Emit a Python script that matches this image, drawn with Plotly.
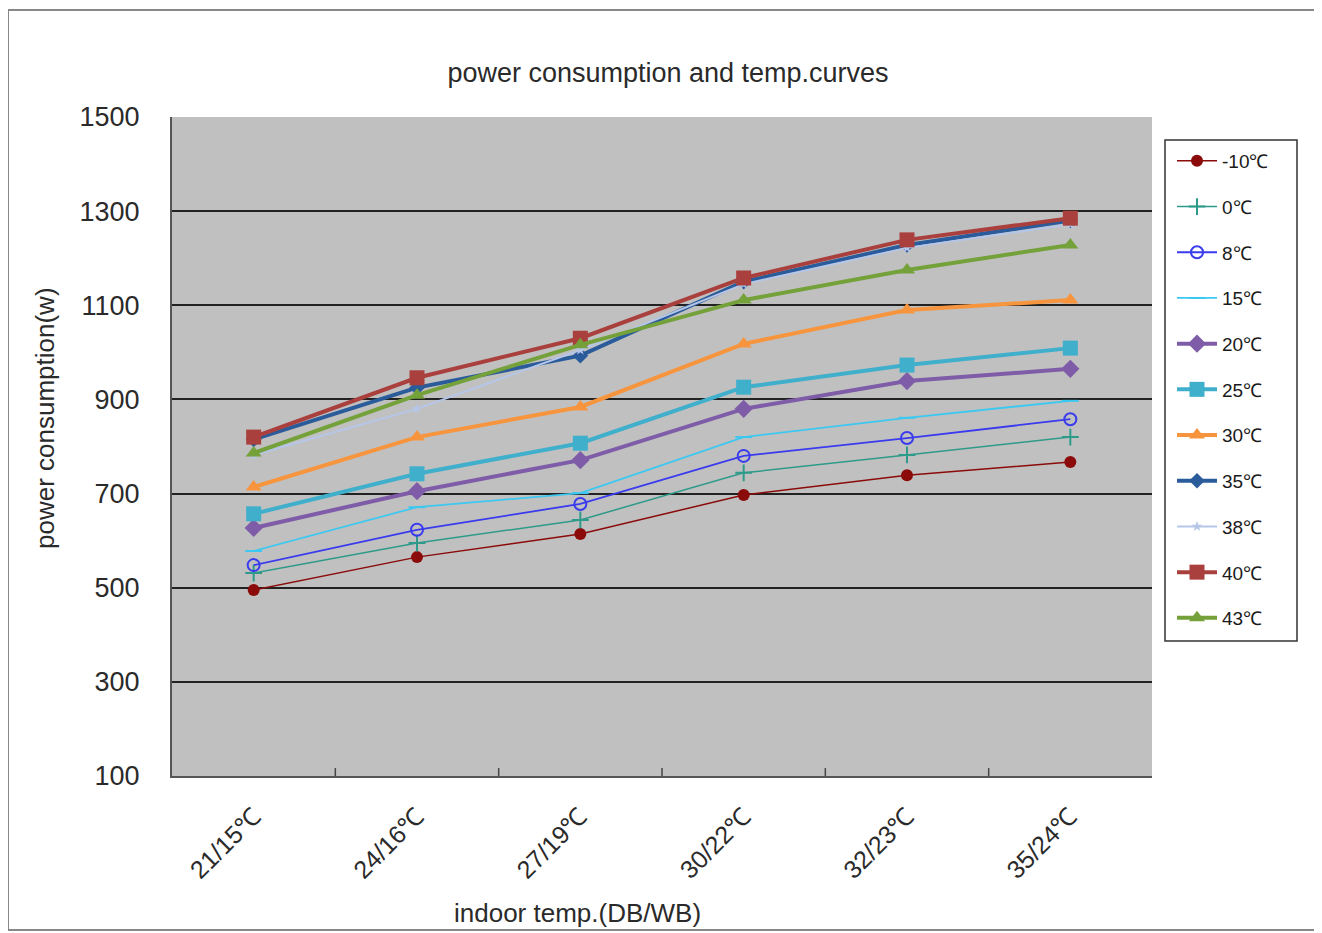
import plotly.graph_objects as go

categories = ["21/15℃", "24/16℃", "27/19℃", "30/22℃", "32/23℃", "35/24℃"]
series_names = ["-10℃", "0℃", "8℃", "15℃", "20℃", "25℃", "30℃", "35℃", "38℃", "40℃", "43℃"]

s_m10 = [495, 565, 614, 697, 739, 767]
s_0 = [531, 595, 644, 744, 782, 820]
s_8 = [548, 623, 678, 780, 818, 858]
s_15 = [578, 671, 701, 820, 861, 897]
s_20 = [627, 705, 771, 880, 939, 965]
s_25 = [657, 742, 807, 926, 973, 1009]
s_30 = [714, 820, 884, 1018, 1090, 1111]
s_35 = [815, 925, 993, 1150, 1228, 1280]
s_38 = [782, 880, 1005, 1145, 1222, 1272]
s_40 = [820, 946, 1030, 1158, 1239, 1285]
s_43 = [786, 909, 1016, 1111, 1175, 1228]

y_ticks = [100, 300, 500, 700, 900, 1100, 1300, 1500]

values = [s_m10, s_0, s_8, s_15, s_20, s_25, s_30, s_35, s_38, s_40, s_43]
colors = ["#8B0A0A", "#2E9A8A", "#3A3AEE", "#3CC8F0", "#7F5CA8", "#3FAFCB",
          "#F7953E", "#2A5B9A", "#B5C6E8", "#A9403E", "#74A13A"]
widths = [1.5, 1.5, 1.8, 1.8, 4, 4, 4, 4, 2, 4, 4]
symbols = ["circle", "cross-thin", "circle-open", "line-ew", "diamond", "square",
           "triangle-up", "diamond", "star", "square", "triangle-up"]
sizes = [12, 12, 12, 12, 14, 15, 14, 12, 8, 15, 14]

fig = go.Figure()
for i, (name, vals) in enumerate(zip(series_names, values)):
    sym = symbols[i]
    marker = dict(symbol=sym, size=sizes[i], color=colors[i])
    if sym in ("cross-thin", "line-ew", "circle-open"):
        marker["line"] = dict(color=colors[i], width=2)
    fig.add_trace(go.Scatter(
        x=categories, y=vals, name=name, mode="lines+markers",
        line=dict(color=colors[i], width=widths[i]),
        marker=marker, legendgroup=name,
    ))

# page coordinates (reference) -> figure coordinates (page body has 8px margin)
OFF = 8
W, H = 1314, 925
L, R, T, B = 172 - OFF, 1152 - OFF, 117 - OFF, 776 - OFF
pw, ph = R - L, B - T

def px_x(x):
    return (x - OFF - L) / pw

def px_y(y):
    return (B - (y - OFF)) / ph

TXT = "#2a2a2a"
FONT = "Liberation Sans, Arial, sans-serif"

fig.update_layout(
    width=W, height=H,
    margin=dict(l=L, r=W - R, t=T, b=H - B),
    paper_bgcolor="white",
    plot_bgcolor="#C0C0C0",
    font=dict(family=FONT, color=TXT),
    title=dict(text="power consumption and temp.curves", x=px_x(668), xref="paper",
               xanchor="center", y=1 - (73 - OFF) / H, yanchor="middle",
               font=dict(size=27, color=TXT)),
    showlegend=True,
    legend=dict(x=px_x(1172), y=px_y(142), xanchor="left", yanchor="top",
                bgcolor="rgba(0,0,0,0)", borderwidth=0,
                font=dict(size=19, color="#1a1a1a"), tracegroupgap=18,
                itemwidth=40),
    xaxis=dict(
        type="category", range=[-0.5, 5.5], tickangle=-45,
        tickfont=dict(size=25, color=TXT),
        showgrid=False, showline=True, linecolor="#555555", linewidth=2,
        ticks="", ticklabelstandoff=14,
    ),
    yaxis=dict(
        range=[100, 1500], tickvals=y_ticks, ticktext=[str(v) for v in y_ticks],
        tickfont=dict(size=27, color=TXT),
        showgrid=True, gridcolor="#222222", gridwidth=2,
        showline=True, linecolor="#555555", linewidth=2,
        zeroline=False, ticks="", ticklabelstandoff=25,
    ),
)

# tick marks between categories (pointing up into the plot)
for k in range(1, 6):
    fig.add_shape(type="line", xref="x", yref="paper", x0=k - 0.5, x1=k - 0.5,
                  y0=0, y1=0.012, line=dict(color="#444444", width=1.5))

# outer chart border
fig.add_shape(type="rect", xref="paper", yref="paper",
              x0=px_x(8), x1=px_x(1318), y0=px_y(930), y1=px_y(10),
              line=dict(color="#888888", width=2), fillcolor="rgba(0,0,0,0)",
              layer="below")

# legend box
fig.add_shape(type="rect", xref="paper", yref="paper",
              x0=px_x(1165), x1=px_x(1297), y0=px_y(641), y1=px_y(140),
              line=dict(color="#333333", width=1.5), fillcolor="white",
              layer="below")

fig.add_annotation(text="indoor temp.(DB/WB)", xref="paper", yref="paper",
                   x=px_x(577), y=px_y(913), showarrow=False,
                   font=dict(size=26, color=TXT), xanchor="center",
                   yanchor="middle")

fig.add_annotation(text="power consumption(w)", xref="paper", yref="paper",
                   x=px_x(45), y=px_y(418), showarrow=False, textangle=-90,
                   font=dict(size=26, color=TXT), xanchor="center",
                   yanchor="middle")

fig.write_html("out.html")
